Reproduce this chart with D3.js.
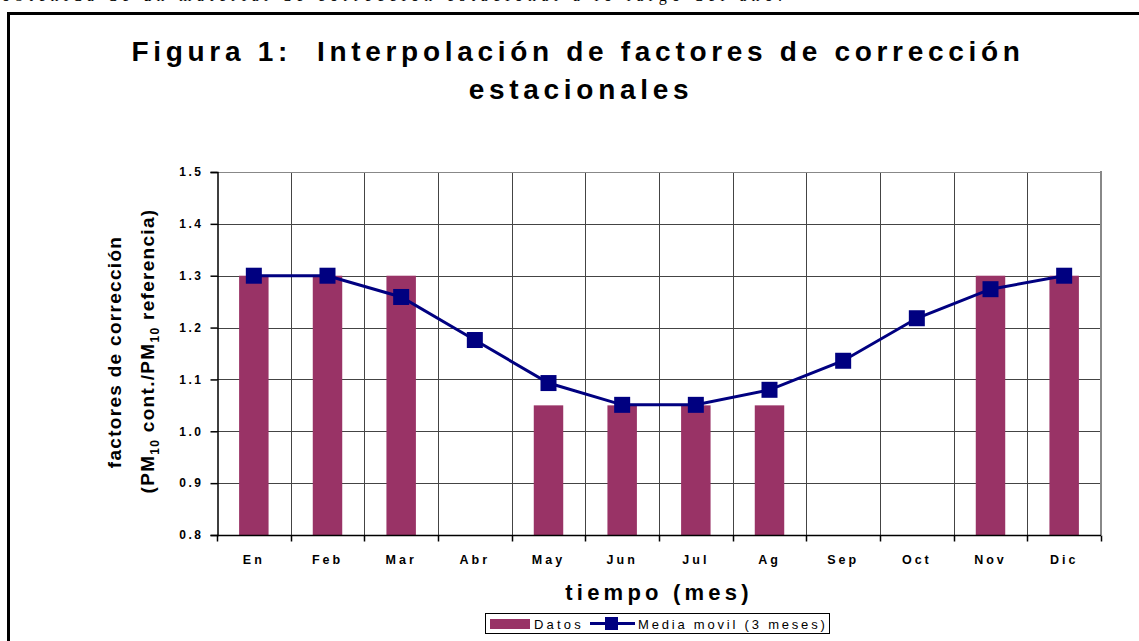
<!DOCTYPE html>
<html><head><meta charset="utf-8">
<script src="https://cdn.jsdelivr.net/npm/d3@7"></script>
<style>
html,body{margin:0;padding:0;background:#fff;}
svg{display:block;font-family:"Liberation Sans",Arial,sans-serif;}
</style></head>
<body>
<svg id="chart" width="1139" height="641"></svg>
<script>
const months = ["En","Feb","Mar","Abr","May","Jun","Jul","Ag","Sep","Oct","Nov","Dic"];
const datos = [1.30,1.30,1.30,null,1.05,1.05,1.05,1.05,null,null,1.30,1.30];
const mediaMovil = [1.30,1.30,1.259,1.176,1.093,1.051,1.051,1.080,1.136,1.218,1.274,1.30];
const yTicks = [0.8,0.9,1.0,1.1,1.2,1.3,1.4,1.5];

(function(){
const svg = d3.select("#chart");
const W = 1139, H = 641;
const pL = 217, pR = 1101, pT = 172, pB = 535;

// cut-off text line at top of page (residue of the surrounding document)
svg.append("text").attr("x", 2).attr("y", 0.5)
  .style("font-family", "'Liberation Serif','Times New Roman',serif").style("font-size", "16px")
  .attr("fill", "#000").attr("textLength", 780).attr("lengthAdjust", "spacing")
  .text("obtenida de un material de corrección estacional a lo largo del año.");

// outer frame
svg.append("path").attr("d", `M8.5,${H+5} L8.5,13.5 L${W+5},13.5`)
  .attr("fill", "none").attr("stroke", "#000").attr("stroke-width", 3);

const x = d3.scaleBand().domain(months).range([pL, pR]).paddingInner(0).paddingOuter(0);
const y = d3.scaleLinear().domain([0.8, 1.5]).range([pB, pT]);

// gridlines
svg.append("g").selectAll("line").data(yTicks.slice(1)).join("line")
  .attr("x1", pL).attr("x2", pR)
  .attr("y1", d => Math.round(y(d)) + 0.5).attr("y2", d => Math.round(y(d)) + 0.5)
  .attr("stroke", "#444").attr("stroke-width", 1);
svg.append("g").selectAll("line").data(months.slice(1)).join("line")
  .attr("x1", d => Math.round(x(d)) + 0.5).attr("x2", d => Math.round(x(d)) + 0.5)
  .attr("y1", pT).attr("y2", pB)
  .attr("stroke", "#444").attr("stroke-width", 1);
// plot area border (right / top)
svg.append("line").attr("x1", pR).attr("x2", pR).attr("y1", pT - 1).attr("y2", pB)
  .attr("stroke", "#888").attr("stroke-width", 2);
svg.append("line").attr("x1", pL).attr("x2", pR).attr("y1", pT + 0.5).attr("y2", pT + 0.5)
  .attr("stroke", "#888").attr("stroke-width", 1);

// bars
const bw = x.bandwidth() * 0.4;
svg.append("g").selectAll("rect").data(months.map((m, i) => ({m, v: datos[i]})).filter(d => d.v != null))
  .join("rect")
  .attr("x", d => x(d.m) + x.bandwidth() / 2 - bw / 2)
  .attr("width", bw)
  .attr("y", d => y(d.v)).attr("height", d => y(0.8) - y(d.v))
  .attr("fill", "#993366");

// axes
const yAxis = svg.append("g").attr("transform", `translate(${pL + 0.5},0)`)
  .call(d3.axisLeft(y).tickValues(yTicks).tickFormat(d3.format(".1f")).tickSizeOuter(0).tickSize(7).tickPadding(7));
yAxis.select(".domain").attr("stroke", "#000").attr("stroke-width", 1.5);
yAxis.selectAll(".tick line").attr("stroke", "#000").attr("stroke-width", 1.5);
yAxis.selectAll(".tick text").style("font-size", "12px").style("font-weight", "bold")
  .style("letter-spacing", "2.5px").attr("fill", "#000").style("font-family", "'Liberation Sans',Arial,sans-serif");

const boundaries = months.map(m => x(m)).concat([pR]);
const xAxisG = svg.append("g").attr("transform", `translate(0,${pB + 0.5})`);
xAxisG.append("line").attr("x1", pL).attr("x2", pR).attr("stroke", "#000").attr("stroke-width", 1.5);
xAxisG.selectAll("line.tk").data(boundaries).join("line").attr("class", "tk")
  .attr("x1", d => Math.round(d) + 0.5).attr("x2", d => Math.round(d) + 0.5)
  .attr("y1", 0).attr("y2", 6).attr("stroke", "#000").attr("stroke-width", 1.5);
xAxisG.selectAll("text").data(months).join("text")
  .attr("x", d => x(d) + x.bandwidth() / 2).attr("y", 28)
  .attr("text-anchor", "middle")
  .style("font-size", "12.5px").style("font-weight", "bold").style("letter-spacing", "3px")
  .text(d => d);

// line + markers
const pts = months.map((m, i) => ({m, v: mediaMovil[i]}));
const line = d3.line().x(d => x(d.m) + x.bandwidth() / 2).y(d => y(d.v));
svg.append("path").datum(pts).attr("d", line)
  .attr("fill", "none").attr("stroke", "#000080").attr("stroke-width", 3);
const ms = 16;
svg.append("g").selectAll("rect").data(pts).join("rect")
  .attr("x", d => x(d.m) + x.bandwidth() / 2 - ms / 2)
  .attr("y", d => y(d.v) - ms / 2)
  .attr("width", ms).attr("height", ms)
  .attr("fill", "#000080");

// title
const title = svg.append("text").attr("text-anchor", "middle").attr("xml:space", "preserve")
  .style("font-size", "28px").style("font-weight", "bold").style("letter-spacing", "4.7px");
title.append("tspan").attr("x", 578).attr("y", 61).text("Figura 1:  Interpolación de factores de corrección");
title.append("tspan").attr("x", 581).attr("y", 99).text("estacionales");

// y axis title
svg.append("text").attr("transform", `translate(121,352) rotate(-90)`)
  .attr("text-anchor", "middle").style("font-size", "19px").style("font-weight", "bold")
  .style("letter-spacing", "1.3px")
  .text("factores de corrección");
const yt2 = svg.append("text").attr("transform", `translate(154,351) rotate(-90)`)
  .attr("text-anchor", "middle").style("font-size", "19px").style("font-weight", "bold")
  .style("letter-spacing", "1.3px");
yt2.append("tspan").text("(PM");
yt2.append("tspan").attr("dy", 5).style("font-size", "12px").text("10");
yt2.append("tspan").attr("dy", -5).text(" cont./PM");
yt2.append("tspan").attr("dy", 5).style("font-size", "12px").text("10");
yt2.append("tspan").attr("dy", -5).text(" referencia)");

// x axis title
svg.append("text").attr("x", 659).attr("y", 600).attr("text-anchor", "middle")
  .style("font-size", "22px").style("font-weight", "bold").style("letter-spacing", "4.2px")
  .text("tiempo (mes)");

// legend
const lg = svg.append("g");
lg.append("rect").attr("x", 485.5).attr("y", 613.5).attr("width", 344).attr("height", 20)
  .attr("fill", "#fff").attr("stroke", "#000").attr("stroke-width", 1);
lg.append("rect").attr("x", 490).attr("y", 619).attr("width", 40).attr("height", 10).attr("fill", "#993366");
lg.append("text").attr("x", 534).attr("y", 629).style("font-size", "13px").style("letter-spacing", "3.2px").text("Datos");
lg.append("line").attr("x1", 590).attr("x2", 635).attr("y1", 623.5).attr("y2", 623.5)
  .attr("stroke", "#000080").attr("stroke-width", 3);
lg.append("rect").attr("x", 605).attr("y", 617).attr("width", 13).attr("height", 13).attr("fill", "#000080");
lg.append("text").attr("x", 638).attr("y", 629).style("font-size", "13px").style("letter-spacing", "2.8px").text("Media movil (3 meses)");
})();
</script>
</body></html>
